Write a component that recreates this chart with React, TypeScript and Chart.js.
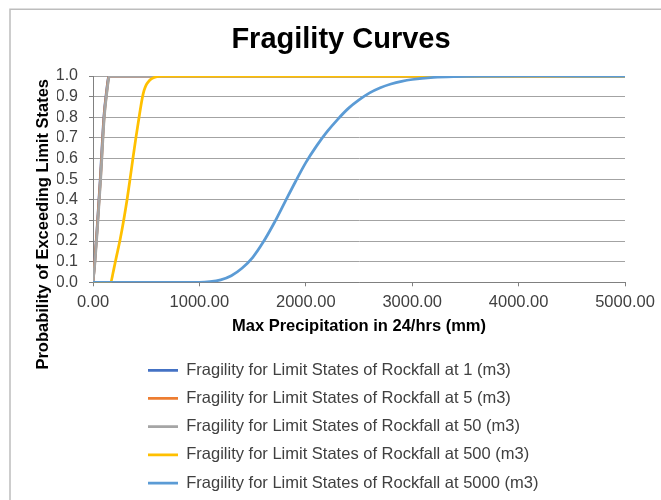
import { useEffect, useRef } from "react";
import { Chart, registerables } from "chart.js";

Chart.register(...registerables);

const FONT = '"Liberation Sans", Arial, sans-serif';

const chartTitle = "Fragility Curves";
const xAxisTitle = "Max Precipitation in 24/hrs (mm)";
const yAxisTitle = "Probability of Exceeding Limit States";

const seriesLabels = [
  "Fragility for Limit States of Rockfall at 1 (m3)",
  "Fragility for Limit States of Rockfall at 5 (m3)",
  "Fragility for Limit States of Rockfall at 50 (m3)",
  "Fragility for Limit States of Rockfall at 500 (m3)",
  "Fragility for Limit States of Rockfall at 5000 (m3)",
];
const seriesColors = ["#4472C4", "#ED7D31", "#A5A5A5", "#FFC000", "#5B9BD5"];

// precipitation (mm) and probability values
const rock1X = [0, 16, 37, 68, 102, 126, 151, 5000];
const rock1Y = [0, 0.1, 0.25, 0.5, 0.8, 0.92, 1, 1];

const rock5X = [0, 17, 38, 70, 104, 128, 153, 5000];
const rock5Y = [0, 0.1, 0.25, 0.5, 0.8, 0.92, 1, 1];

const rock50X = [0, 19, 40, 72, 106, 130, 155, 5000];
const rock50Y = [0, 0.1, 0.25, 0.5, 0.8, 0.92, 1, 1];

const rock500X = [0, 166, 188, 210, 232, 254, 288, 320, 348, 375, 403, 433, 462, 480, 498, 520, 545, 575, 610, 650, 5000];
const rock500Y = [0, 0, 0.045, 0.1, 0.152, 0.205, 0.3, 0.4, 0.5, 0.6, 0.7, 0.8, 0.89, 0.93, 0.955, 0.972, 0.985, 0.993, 0.998, 1, 1];

const rock5000X = [0, 1000, 1100, 1200, 1300, 1400, 1500, 1600, 1700, 1800, 1900, 2000, 2100, 2200, 2300, 2400, 2500, 2600, 2700, 2800, 2900, 3000, 3200, 3400, 3700, 4200, 5000];
const rock5000Y = [0, 0, 0.003, 0.012, 0.032, 0.068, 0.12, 0.195, 0.285, 0.385, 0.485, 0.58, 0.66, 0.73, 0.79, 0.843, 0.884, 0.918, 0.943, 0.961, 0.974, 0.983, 0.993, 0.997, 0.999, 1, 1];

const seriesX = [rock1X, rock5X, rock50X, rock500X, rock5000X];
const seriesY = [rock1Y, rock5Y, rock50Y, rock500Y, rock5000Y];

const xMin = 0;
const xMax = 5000;
const xStep = 1000;
const yMin = 0;
const yMax = 1;
const yStep = 0.1;

const framePlugin = {
  id: "frame",
  beforeDraw(chart: any) {
    const ctx = chart.ctx;
    ctx.save();
    ctx.strokeStyle = "#bdbdbd";
    ctx.lineWidth = 1.5;
    ctx.beginPath();
    ctx.moveTo(2, chart.height);
    ctx.lineTo(2, 1.25);
    ctx.lineTo(chart.width, 1.25);
    ctx.stroke();
    ctx.restore();
  },
};

const layoutFixPlugin = {
  id: "layoutFix",
  afterLayout(chart: any) {
    const lg = chart.legend;
    if (lg) {
      const dx = 128.3 - lg.left;
      lg.left += dx;
      lg.right += dx;
      const dy = 342.3 - lg.top;
      lg.top += dy;
      lg.bottom += dy;
    }
  },
};

const yTitlePlugin = {
  id: "yTitle",
  afterDraw(chart: any) {
    const ctx = chart.ctx;
    const ys = chart.scales.y;
    ctx.save();
    ctx.translate(ys.left - 14, chart.chartArea.bottom - 58);
    ctx.rotate(-Math.PI / 2);
    ctx.font = `bold 16.5px ${FONT}`;
    ctx.fillStyle = "#000000";
    ctx.textAlign = "center";
    ctx.textBaseline = "middle";
    ctx.fillText(yAxisTitle, 0, 0);
    ctx.restore();
  },
};

export default function App() {
  const ref = useRef<HTMLCanvasElement>(null);

  useEffect(() => {
    if (!ref.current) return;
    const datasets = seriesLabels.map((label, i) => ({
      label,
      data: seriesX[i].map((x, j) => ({ x, y: seriesY[i][j] })),
      borderColor: seriesColors[i],
      backgroundColor: seriesColors[i],
      borderWidth: 2.75,
      pointRadius: 0,
      pointStyle: "line" as const,
      cubicInterpolationMode: "monotone" as const,
      fill: false,
      order: seriesLabels.length - i,
    }));

    const chart = new Chart(ref.current, {
      type: "line",
      data: { datasets },
      plugins: [framePlugin, layoutFixPlugin, yTitlePlugin],
      options: {
        animation: false,
        responsive: false,
        layout: { padding: { left: 49, right: 36, top: 0, bottom: 11.7 } },
        plugins: {
          tooltip: { enabled: false },
          title: {
            display: true,
            text: chartTitle,
            color: "#000000",
            font: { family: FONT, size: 29, weight: "bold" },
            padding: { top: 14.1, bottom: 19.1 },
          },
          legend: {
            display: true,
            position: "bottom",
            align: "start",
            labels: {
              usePointStyle: true,
              pointStyleWidth: 30,
              padding: 11.7,
              color: "#404040",
              font: { family: FONT, size: 16.5 },
              sort: (a: any, b: any) => a.datasetIndex - b.datasetIndex,
            },
          },
        },
        scales: {
          x: {
            type: "linear",
            min: xMin,
            max: xMax,
            afterFit: (scale: any) => {
              scale.height = 55;
              scale.paddingLeft = 0;
              scale.paddingRight = 0;
            },
            ticks: {
              stepSize: xStep,
              autoSkip: false,
              maxRotation: 0,
              padding: 6,
              color: "#404040",
              font: { family: FONT, size: 16.5 },
              callback: (v: any) => Number(v).toFixed(2),
            },
            grid: {
              drawOnChartArea: false,
              drawTicks: true,
              tickLength: 4,
              tickColor: "#808080",
            },
            border: { display: true, color: "#808080", width: 1 },
            title: {
              display: true,
              text: xAxisTitle,
              color: "#000000",
              font: { family: FONT, size: 16.5, weight: "bold" },
              padding: { top: 0, bottom: 1.1 },
            },
          },
          y: {
            min: yMin,
            max: yMax,
            afterFit: (scale: any) => {
              scale.width = 36;
              scale.paddingTop = 0;
              scale.paddingBottom = 0;
            },
            ticks: {
              stepSize: yStep,
              autoSkip: false,
              padding: 11,
              color: "#404040",
              font: { family: FONT, size: 16 },
              callback: (v: any) => Number(v).toFixed(1),
            },
            grid: {
              color: "#a3a3a3",
              lineWidth: 1,
              drawTicks: true,
              tickLength: 4,
              tickColor: "#808080",
            },
            border: { display: true, color: "#808080", width: 1 },
          },
        },
      },
    });
    return () => chart.destroy();
  }, []);

  return (
    <div style={{ position: "fixed", left: 8, top: 8, width: 653, height: 492 }}>
      <canvas ref={ref} width={653} height={492} style={{ display: "block" }} />
    </div>
  );
}
